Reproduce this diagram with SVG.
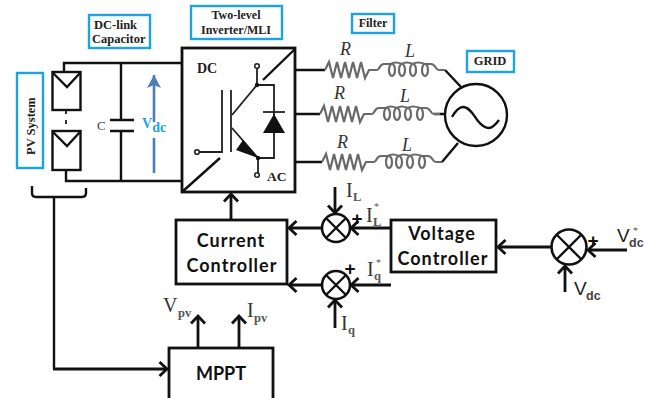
<svg xmlns="http://www.w3.org/2000/svg" width="652" height="398" viewBox="0 0 652 398">
<style>
.w{fill:none;stroke:#111;stroke-width:2.4}
.t{fill:none;stroke:#222;stroke-width:1.8}
.a{fill:none;stroke:#111;stroke-width:2.8;marker-end:url(#ah)}
.lb{fill:#fff;stroke:#1ca3e4;stroke-width:2.4}
.box{fill:#fff;stroke:#111;stroke-width:2.8}
.s{font-family:"Liberation Serif",serif;fill:#333;font-size:20px}
.sub{font-family:"Liberation Serif",serif;font-weight:bold;fill:#555;font-size:12.5px}
.star{font-family:"Liberation Serif",serif;fill:#555;font-size:10px}
.sb{font-family:"Liberation Serif",serif;font-weight:bold;fill:#222}
.v{font-family:"Liberation Sans",sans-serif;fill:#222;font-size:19px}
.vs{font-family:"Liberation Sans",sans-serif;font-weight:bold;fill:#444;font-size:12.5px}
.c{font-family:Lato,"Liberation Sans",sans-serif;font-weight:bold;fill:#111;font-size:18px;letter-spacing:1px;text-anchor:middle}
.f{fill:none;stroke:#6a6a6a;stroke-width:2.2}
.rl{font-family:"Liberation Serif",serif;font-style:italic;font-size:18px;fill:#333}
.sum{fill:#fff;stroke:#111;stroke-width:2.6}
.p{font-family:"Liberation Sans",sans-serif;font-weight:bold;font-size:19px;fill:#111;text-anchor:middle}
</style>
<defs>
<marker id="ah" markerUnits="userSpaceOnUse" markerWidth="14" markerHeight="18" refX="11" refY="9" orient="auto">
<path d="M3.500 2L11 9L3.500 16" fill="none" stroke="#111" stroke-width="2.8"/>
</marker>
<marker id="bh" markerUnits="userSpaceOnUse" markerWidth="14" markerHeight="16" refX="13" refY="7" orient="auto">
<path d="M0 0L13 7L0 14L3 7Z" fill="#4a7ebb"/>
</marker>
<g id="rlc">
<path class="f" d="M0 0L4 -8L8 8L12 -8L16 8L20 -8L24 8L28 -8L32 8L36 -8L40 8L44 0L52 0C55 0 54 -6 59 -6L66 -6Q70 -9 77 -6Q81 -9 88 -6Q92 -9 100 -6L106 -6C111 -6 110 0 114 0L120 0"/>
<ellipse class="f" cx="67" cy="0" rx="3" ry="6"/>
<ellipse class="f" cx="77" cy="0" rx="3" ry="6"/>
<ellipse class="f" cx="88" cy="0" rx="3" ry="6"/>
<ellipse class="f" cx="100" cy="0" rx="3" ry="6"/>
</g>
</defs>

<g id="connectors">
<path class="w" d="M64 71V63H182M66 170V181H182"/>
<path class="w" d="M121 63V120M121 131V181"/>
<path class="w" d="M110 120H134M110 131H134"/>
<path d="M66 110V114M66 120V124" fill="none" stroke="#333" stroke-width="2"/>
<path d="M154 122V75" fill="none" stroke="#4a7ebb" stroke-width="2.6" marker-end="url(#bh)"/>
<path d="M154 138V173" fill="none" stroke="#4a7ebb" stroke-width="2.6"/>
<path class="w" d="M32 186V193Q32 197 36 197H82Q86 197 86 193V188M54 197V369"/>
<path class="a" d="M53 369H167"/>
<path class="a" d="M198 348V316"/>
<path class="a" d="M239 348V316"/>
<path class="a" d="M231 220V194"/>
<path class="a" d="M322 228H289"/>
<path class="a" d="M322 285H289"/>
<path class="a" d="M391 228H351"/>
<path class="a" d="M391 285H351"/>
<path class="a" d="M335 187V213"/>
<path class="a" d="M335 328V300"/>
<path class="a" d="M551 247H498"/>
<path class="a" d="M627 250H588"/>
<path class="a" d="M565 292V266"/>
<path class="w" d="M296 70H325M296 114H320M296 162H322"/>
<path class="w" d="M445 70L462 88M434 114H446M442 162L458 143"/>
</g>

<g id="pv-array">
<rect x="52.500" y="72" width="28" height="38" fill="#fff" stroke="#111" stroke-width="2.4"/>
<path class="w" d="M53 73L67 87L80 73"/>
<rect x="52.500" y="131" width="28" height="39" fill="#fff" stroke="#111" stroke-width="2.4"/>
<path class="w" d="M53 132L67 146L80 132"/>
</g>

<g id="pv-label">
<rect class="lb" x="17" y="73" width="26" height="95"/>
<text class="sb" font-size="12.500" transform="translate(35 155) rotate(-90)">PV System</text>
</g>
<g id="dclink-label">
<rect class="lb" x="89" y="15" width="61" height="33"/>
<text class="sb" font-size="12.500" x="94" y="29">DC-link</text>
<text class="sb" font-size="12.500" x="92" y="43">Capacitor</text>
</g>
<g id="inverter-label">
<rect class="lb" x="191" y="6" width="91" height="33"/>
<text class="sb" font-size="12" x="236" y="19" text-anchor="middle">Two-level</text>
<text class="sb" font-size="12" x="236" y="34" text-anchor="middle">Inverter/MLI</text>
</g>
<g id="filter-label">
<rect class="lb" x="352" y="14" width="42" height="19"/>
<text class="sb" font-size="12" x="373" y="27" text-anchor="middle">Filter</text>
</g>
<g id="grid-label">
<rect class="lb" x="467" y="51" width="47" height="21"/>
<text class="sb" font-size="12.500" x="490" y="65" text-anchor="middle">GRID</text>
</g>

<text class="s" style="font-size:13px;fill:#444" x="97" y="130">C</text>
<text class="sb" font-size="14" x="142" y="128" style="fill:#1ca3e4">V<tspan dy="4">dc</tspan></text>

<g id="inverter">
<rect class="box" x="182" y="48" width="113" height="144"/>
<path class="w" d="M295 49L263 80M182 192L220 158"/>
<text class="sb" font-size="14" x="197" y="73">DC</text>
<text class="sb" font-size="13.500" x="267" y="181">AC</text>
<path class="t" d="M197 152H222V90M231 90V152M232 115L257 85M232 128L258 158"/>
<path d="M243 140L258 158L236 150Z" fill="#111"/>
<path class="t" d="M257 68V85H274V158H258V173"/>
<circle cx="257" cy="66" r="2.300" fill="#fff" stroke="#222" stroke-width="1.600"/>
<circle cx="257" cy="175" r="2.300" fill="#fff" stroke="#222" stroke-width="1.600"/>
<circle cx="197" cy="152" r="2.300" fill="#fff" stroke="#222" stroke-width="1.600"/>
<circle cx="257" cy="85" r="2.200" fill="#111"/>
<circle cx="258" cy="158" r="2.200" fill="#111"/>
<path d="M263 133H285L274 114Z" fill="#111"/>
<path class="t" d="M263 112H285"/>
</g>

<g id="filter">
<use href="#rlc" x="325" y="70"/>
<use href="#rlc" x="320" y="114"/>
<use href="#rlc" x="322" y="162"/>
<text class="rl" x="340" y="55">R</text>
<text class="rl" x="405" y="57">L</text>
<text class="rl" x="334" y="99">R</text>
<text class="rl" x="400" y="102">L</text>
<text class="rl" x="337" y="148">R</text>
<text class="rl" x="402" y="151">L</text>
</g>

<g id="grid">
<circle cx="476" cy="115" r="31" fill="#fff" stroke="#111" stroke-width="2.400"/>
<path class="w" d="M452 117C456 110 459 107 463 107C470 107 474 116 478 121C482 126 485 128 489 128C493 128 496 124 499 120"/>
</g>

<g id="current-controller">
<rect class="box" x="176" y="220" width="111" height="64"/>
<text class="c" x="231" y="247">Current</text>
<text class="c" x="232" y="272">Controller</text>
</g>
<g id="voltage-controller">
<rect class="box" x="391" y="220" width="105" height="52"/>
<text class="c" x="442" y="240">Voltage</text>
<text class="c" x="443" y="265">Controller</text>
</g>
<g id="mppt">
<rect class="box" x="169" y="348" width="104" height="52"/>
<text class="c" x="221" y="380" style="letter-spacing:0">MPPT</text>
</g>

<g id="sum-1">
<circle class="sum" cx="336" cy="228" r="14"/>
<path class="w" d="M326 218L346 238M346 218L326 238"/>
</g>
<g id="sum-2">
<circle class="sum" cx="336" cy="285" r="14"/>
<path class="w" d="M326 275L346 295M346 275L326 295"/>
</g>
<g id="sum-3">
<circle class="sum" cx="569" cy="247" r="17.500"/>
<path class="w" d="M557 235L581 259M581 235L557 259"/>
</g>

<text class="p" x="357" y="225">+</text>
<text class="p" x="350" y="275">+</text>
<text class="p" x="593" y="247">+</text>

<text class="s" x="346" y="197">I</text><text class="sub" x="353" y="201">L</text>
<text class="s" x="366" y="222">I</text><text class="sub" x="373" y="226">L</text><text class="star" x="374" y="210">*</text>
<text class="s" x="367" y="276">I</text><text class="sub" x="374" y="280">q</text><text class="star" x="376" y="266">*</text>
<text class="s" x="341" y="330">I</text><text class="sub" x="348" y="334">q</text>
<text class="s" x="163" y="312">V</text><text class="sub" x="178" y="317">pv</text>
<text class="s" x="247" y="317">I</text><text class="sub" x="254" y="322">pv</text>
<text class="v" x="617" y="242">V</text><text class="vs" x="629" y="247">dc</text><text class="star" x="633" y="234">*</text>
<text class="v" x="574" y="295">V</text><text class="vs" x="586" y="300">dc</text>
</svg>
